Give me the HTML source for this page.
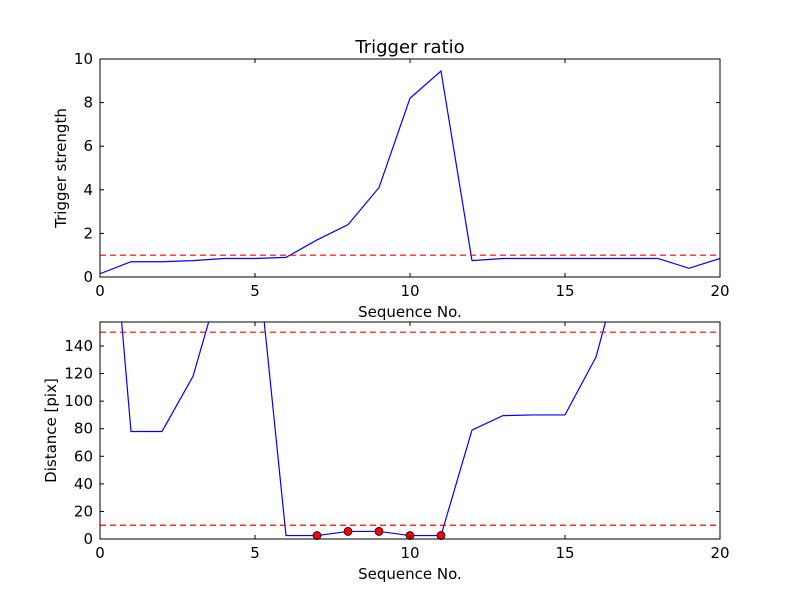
<!DOCTYPE html>
<html><head><meta charset="utf-8"><style>body{margin:0;background:#fff}svg{display:block;font-family:"DejaVu Sans","Liberation Sans",sans-serif}</style></head>
<body>
<svg id="c" width="800" height="600"></svg>
<script>
const seqX=[0,1,2,3,4,5,6,7,8,9,10,11,12,13,14,15,16,17,18,19,20];
const triggerVals=[0.15,0.7,0.7,0.75,0.85,0.85,0.9,1.7,2.4,4.1,8.2,9.45,0.75,0.85,0.85,0.85,0.85,0.85,0.85,0.4,0.85];
const distVals=[341,78,78,118,196,223,2.5,2.5,5.5,5.5,2.5,2.5,79,89.5,90,90,132,215,250,250,250];
const dotX=[7,8,9,10,11];
const dotVals=[2.5,5.5,5.5,2.5,2.5];
const xTicks=[0,5,10,15,20];
const topTicks=[0,2,4,6,8,10];
const botTicks=[0,20,40,60,80,100,120,140];
const topThresh=[1.0];
const botThresh=[10,150];
const NS="http://www.w3.org/2000/svg";
const svg=document.getElementById('c');
function mk(t,a,p){const e=document.createElementNS(NS,t);for(const k in a)e.setAttribute(k,a[k]);(p||svg).appendChild(e);return e;}
function panel(id,top,bot,ymax,yTicks,vals,thr,ylabel,title){
  const L=100,R=720;
  const sx=v=>L+(v-0)/20*(R-L);
  const sy=v=>bot-(v/ymax)*(bot-top);
  const g=mk('g',{});
  
  
  const cp=mk('clipPath',{id:id+'clip'},g);mk('rect',{x:L,y:top,width:R-L,height:bot-top},cp);
  const pts=seqX.map((x,i)=>sx(x)+','+sy(vals[i])).join(' ');
  const line=mk('polyline',{points:pts,fill:'none',stroke:'#0000ff','stroke-width':1.2,'clip-path':'url(#'+id+'clip)'},g);
  
  
  thr.forEach(t=>{const l=mk('line',{x1:L,x2:R,y1:sy(t),y2:sy(t),stroke:'#ff0000','stroke-dasharray':'6,4','stroke-width':1.2},g);
    
    });
  if(id==='bottom'){dotX.forEach((x,i)=>{const c=mk('circle',{cx:sx(x),cy:sy(dotVals[i]),r:4,fill:'#ff0000',stroke:'#000','stroke-width':0.8},g);
    
    });}
  mk('rect',{x:L,y:top,width:R-L,height:bot-top,fill:'none',stroke:'#000','stroke-width':1},g);
  xTicks.forEach(t=>{const x=sx(t);mk('line',{x1:x,x2:x,y1:bot,y2:bot-4,stroke:'#000'},g);mk('line',{x1:x,x2:x,y1:top,y2:top+4,stroke:'#000'},g);
    const tx=mk('text',{x:x,y:bot+19,'text-anchor':'middle','font-size':15},g);tx.textContent=t;
    
    });
  yTicks.forEach(t=>{const y=sy(t);mk('line',{x1:L,x2:L+4,y1:y,y2:y,stroke:'#000'},g);mk('line',{x1:R,x2:R-4,y1:y,y2:y,stroke:'#000'},g);
    const tx=mk('text',{x:L-7,y:y+5,'text-anchor':'end','font-size':15},g);tx.textContent=t;
    
    });
  const xl=mk('text',{x:410,y:bot+40,'text-anchor':'middle','font-size':15},g);xl.textContent='Sequence No.';
  
  
  const cy=(top+bot)/2;
  const yl=mk('text',{x:0,y:0,'text-anchor':'middle','font-size':15,transform:'translate('+(id==='top'?66:56)+','+cy+') rotate(-90)'},g);yl.textContent=ylabel;
  
  
  if(title){const tt=mk('text',{x:410,y:top-6,'text-anchor':'middle','font-size':18},g);tt.textContent=title;
    
    }
}
panel('top',59,277,10,topTicks,triggerVals,topThresh,'Trigger strength','Trigger ratio');
panel('bottom',322,539,157.4,botTicks,distVals,botThresh,'Distance [pix]',null);
</script>
</body></html>
